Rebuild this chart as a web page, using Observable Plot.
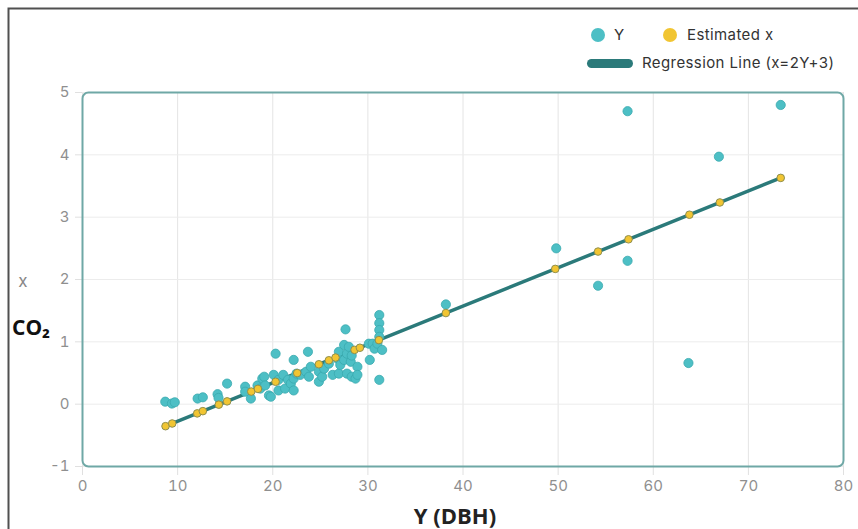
<!DOCTYPE html>
<html>
<head>
<meta charset="utf-8">
<script src="https://cdn.jsdelivr.net/npm/d3@7"></script>
<script src="https://cdn.jsdelivr.net/npm/@observablehq/plot@0.6"></script>
<style>
  html, body { margin: 0; padding: 0; background: #fff; }
  #chart { position: relative; width: 858px; height: 529px; overflow: hidden; }
</style>
</head>
<body>
<div id="chart"></div>
<script>
// Observed points: Y (DBH) and x (CO2)
const obsY = [8.7, 9.4, 9.7, 12.1, 12.65, 14.2, 14.3, 15.2, 17.1, 17.1, 17.7, 18.4, 18.7, 18.9, 19.1, 19.2, 19.6, 19.8,
  20.1, 20.3, 20.6, 20.6, 21.1, 21.3, 21.6, 21.9, 22.2, 22.2, 22.2, 22.5, 22.9, 23.5, 23.7, 23.8, 24.0,
  24.85, 24.85, 25.2, 25.4, 25.9, 26.3, 26.8, 26.95, 26.95, 27.1, 27.5, 27.5, 27.65, 27.8, 27.8,
  28.0, 28.2, 28.3, 28.3, 28.7, 28.9, 28.9, 30.1, 30.2, 30.5, 30.7, 31.2, 31.2, 31.2, 31.2, 31.0, 31.5, 31.2,
  38.2, 49.8, 54.2, 57.3, 57.3, 63.7, 66.9, 73.4];
const obsX = [0.04, 0.01, 0.03, 0.09, 0.11, 0.16, 0.10, 0.33, 0.28, 0.20, 0.09, 0.30, 0.25, 0.41, 0.44, 0.30, 0.14, 0.12,
  0.47, 0.81, 0.39, 0.22, 0.47, 0.25, 0.39, 0.33, 0.71, 0.41, 0.22, 0.49, 0.47, 0.52, 0.84, 0.44, 0.60,
  0.52, 0.36, 0.44, 0.57, 0.65, 0.47, 0.73, 0.84, 0.49, 0.63, 0.95, 0.71, 1.20, 0.81, 0.49,
  0.92, 0.68, 0.78, 0.44, 0.41, 0.60, 0.47, 0.97, 0.71, 0.97, 0.89, 1.43, 1.30, 1.19, 1.08, 0.97, 0.87, 0.39,
  1.60, 2.50, 1.90, 4.70, 2.30, 0.66, 3.97, 4.80];

// Estimated x points (on the regression line)
const estY = [8.73, 9.43, 12.06, 12.65, 14.33, 15.2, 17.74, 18.44, 20.3, 22.57, 24.85, 25.9, 26.6, 28.6, 29.16, 31.16,
  38.2, 49.7, 54.2, 57.4, 63.8, 67.0, 73.4];
const estX = [-0.353, -0.310, -0.148, -0.112, -0.008, 0.045, 0.202, 0.245, 0.359, 0.499, 0.640, 0.704, 0.748, 0.871, 0.905, 1.028,
  1.462, 2.170, 2.448, 2.645, 3.039, 3.236, 3.630];

// Regression line endpoints
const lineY = [8.73, 73.4];
const lineX = [-0.353, 3.630];

const xTicks = [0, 10, 20, 30, 40, 50, 60, 70, 80];
const yTicks = [-1, 0, 1, 2, 3, 4, 5];

const obs = obsY.map((y, i) => ({Y: y, X: obsX[i]}));
const est = estY.map((y, i) => ({Y: y, X: estX[i]}));
const line = lineY.map((y, i) => ({Y: y, X: lineX[i]}));

const FONT = "Inter, 'Noto Sans', sans-serif";
const fmt = d => String(d);

const plot = Plot.plot({
  width: 858,
  height: 529,
  marginLeft: 82,
  marginRight: 15,
  marginTop: 92,
  marginBottom: 63,
  style: {fontFamily: FONT, background: "transparent"},
  x: {domain: [0, 80]},
  y: {domain: [-1, 5]},
  marks: [
    Plot.gridX(xTicks, {stroke: "#e4e4e4", strokeOpacity: 1, strokeWidth: 1}),
    Plot.gridY(yTicks, {stroke: "#ececec", strokeOpacity: 1, strokeWidth: 1}),
    Plot.axisX(xTicks, {tickSize: 9, stroke: "#e0e0e0", fill: "#8f8f8f", fontSize: 15, tickPadding: 5, tickFormat: fmt, label: null}),
    Plot.axisY(yTicks, {tickSize: 7, stroke: "#e0e0e0", fill: "#8f8f8f", fontSize: 15, tickPadding: 6, tickFormat: fmt, label: null}),
    Plot.frame({stroke: "#6fa8a6", strokeWidth: 2, rx: 6}),
    Plot.line(line, {x: "Y", y: "X", stroke: "#2b7a7a", strokeWidth: 3.5}),
    Plot.dot(obs, {x: "Y", y: "X", r: 4.6, fill: "#4dbfc5", stroke: "#3aa9ae", strokeWidth: 0.8}),
    Plot.dot(est, {x: "Y", y: "X", r: 3.8, fill: "#f1c532", stroke: "#8f8f4f", strokeWidth: 1})
  ]
});

const svg = d3.select(plot);
// outer border (top and left)
svg.append("path").attr("d", "M8.5,540 V8.5 H870").attr("fill", "none").attr("stroke", "#505050").attr("stroke-width", 2);

// legend
const lg = svg.append("g").style("font-family", FONT).style("font-size", "15px").style("letter-spacing", "0.4px")
  .attr("fill", "#333").attr("text-anchor", "start");
lg.append("circle").attr("cx", 598).attr("cy", 35).attr("r", 7).attr("fill", "#4dbfc5");
lg.append("text").attr("x", 614).attr("y", 40).text("Y");
lg.append("circle").attr("cx", 670).attr("cy", 35).attr("r", 7).attr("fill", "#f1c532");
lg.append("text").attr("x", 687).attr("y", 40).text("Estimated x");
lg.append("rect").attr("x", 587).attr("y", 59).attr("width", 46).attr("height", 9).attr("rx", 4.5).attr("fill", "#2b7a7a");
lg.append("text").attr("x", 642).attr("y", 68).text("Regression Line (x=2Y+3)");

// axis labels
svg.append("text").attr("x", 23).attr("y", 287).attr("text-anchor", "middle")
  .style("font-family", FONT).style("font-size", "17px").attr("fill", "#888").text("x");
svg.append("text").attr("x", 12).attr("y", 335).attr("text-anchor", "start")
  .style("font-family", "'Open Sans', 'Noto Sans', sans-serif").style("font-size", "21px").style("font-weight", "bold")
  .attr("fill", "#111").text("CO₂");
svg.append("text").attr("x", 455).attr("y", 524).attr("text-anchor", "middle")
  .style("font-family", "'Open Sans', 'Noto Sans', sans-serif").style("font-size", "22px").style("font-weight", "bold")
  .attr("fill", "#222").text("Y (DBH)");

document.getElementById("chart").appendChild(plot);
</script>
</body>
</html>
